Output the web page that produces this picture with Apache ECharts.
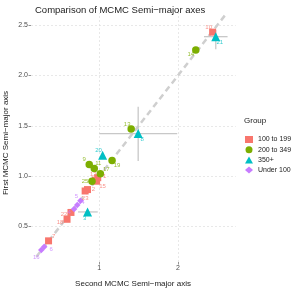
<!DOCTYPE html>
<html><head><meta charset="utf-8">
<script src="https://cdn.jsdelivr.net/npm/echarts@6/dist/echarts.min.js"></script>
<style>html,body{margin:0;padding:0;background:#fff}#c{width:291px;height:291px}</style>
</head><body><div id="c"></div>
<script>
// ---- data ----
const groupNames = ['100 to 199', '200 to 349', '350+', 'Under 100'];
const groupColors = ['#F8766D', '#7CAE00', '#00BFC4', '#C77CFF'];

const idsA = ['10', '12', '1', '15', '2', '23', '22', '18', '7'];
const xA   = [2.44, 0.95, 0.98, 0.965, 0.85, 0.82, 0.64, 0.59, 0.355];
const yA   = [2.43, 0.96, 0.985, 0.95, 0.867, 0.853, 0.64, 0.572, 0.358];

const idsB = ['14', '13', '9', '11', '19', '17', '25'];
const xB   = [2.226, 1.405, 0.872, 0.936, 1.162, 1.013, 0.907];
const yB   = [2.253, 1.469, 1.117, 1.077, 1.156, 1.025, 0.949];

const idsC = ['21', '8', '20', '3'];
const xC   = [2.48, 1.494, 1.042, 0.851];
const yC   = [2.385, 1.423, 1.209, 0.645];

const idsD = ['5', '24', '4', '6', '16'];
const xD   = [0.76, 0.72, 0.68, 0.30, 0.262];
const yD   = [0.755, 0.715, 0.675, 0.30, 0.267];

// error bars
const errX  = [2.48, 1.494, 0.851];
const errY  = [2.385, 1.423, 0.645];
const errXLo = [2.33, 1.00, 0.73];
const errXHi = [2.63, 1.99, 0.98];
const errYLo = [2.26, 1.15, 0.63];
const errYHi = [2.45, 1.69, 0.66];

const diagEnds = [0.2, 2.62];
const xTicks = [1, 2];
const yTicks = [0.5, 1.0, 1.5, 2.0, 2.5];

// ---- label placement (layout only) ----
const labelOffsets = {
  '10': [-4, -5], '12': [-2, -6], '1': [7, -1], '15': [6, 5], '2': [6, 0], '23': [0, 7],
  '22': [-7, 2], '18': [-7, 3], '7': [5, -5],
  '14': [-5, 4], '13': [-4, -5], '9': [-5, -5], '11': [4, -5], '19': [5, 5], '17': [6, -4], '25': [-7, 0],
  '21': [4, 6], '8': [4, 6], '20': [-4, -5], '3': [-3, 6],
  '5': [-4, -5], '24': [4, -3], '4': [-5, 3], '6': [7, 3], '16': [-5, 7]
};

const FONT = '"Liberation Sans", Arial, sans-serif';

function mkData(ids, xs, ys, color) {
  return ids.map((id, i) => ({
    value: [xs[i], ys[i]], name: id,
    label: { show: true, formatter: id, position: 'inside', offset: labelOffsets[id] || [0, 0],
      color: color, opacity: 0.8, fontSize: 6, fontFamily: FONT }
  }));
}

const symbols = ['rect', 'circle', 'triangle', 'diamond'];
const sizes = [7, 7.5, 9, 6.5];
const groupData = [[idsA, xA, yA], [idsB, xB, yB], [idsC, xC, yC], [idsD, xD, yD]];

const scatterSeries = groupNames.map((g, k) => ({
  name: g, type: 'scatter', symbol: symbols[k], symbolSize: sizes[k],
  itemStyle: { color: groupColors[k], opacity: 1 },
  data: mkData(groupData[k][0], groupData[k][1], groupData[k][2], groupColors[k]),
  z: 5, emphasis: { disabled: true }
}));

const gridLineData = xTicks.map(v => ({ xAxis: v })).concat(yTicks.map(v => ({ yAxis: v })));

const chart = echarts.init(document.getElementById('c'), null, { renderer: 'canvas' });
chart.setOption({
  animation: false,
  backgroundColor: '#fff',
  textStyle: { fontFamily: FONT },
  title: {
    text: 'Comparison of MCMC Semi\u2212major axes', left: 30, top: 0,
    textStyle: { fontSize: 9.5, fontWeight: 'normal', color: '#1a1a1a', fontFamily: FONT }
  },
  graphic: [
    { type: 'text', left: 244, top: 117, style: { text: 'Group', fontSize: 8, fill: '#1a1a1a', fontFamily: FONT } },
    { type: 'text', x: 133, y: 284, style: { text: 'Second MCMC Semi\u2212major axis', fontSize: 8, fill: '#1a1a1a', fontFamily: FONT, align: 'center', verticalAlign: 'middle' } },
    { type: 'text', x: 6, y: 143, rotation: Math.PI / 2, style: { text: 'First MCMC Semi\u2212major axis', fontSize: 8, fill: '#1a1a1a', fontFamily: FONT, align: 'center', verticalAlign: 'middle' } }
  ],
  legend: {
    orient: 'vertical', left: 245, top: 136, padding: 0, itemGap: 3.2,
    itemWidth: 8, itemHeight: 7,
    data: groupNames,
    textStyle: { fontSize: 7, color: '#1a1a1a', fontFamily: FONT, lineHeight: 7 }
  },
  grid: { left: 31, right: 55, top: 13, bottom: 29, containLabel: false },
  xAxis: {
    type: 'value', min: 0.132, max: 2.737,
    axisLine: { show: false },
    axisTick: { show: true, length: 2.5, lineStyle: { color: '#4d4d4d', width: 0.6 }, customValues: xTicks },
    axisLabel: { fontSize: 7, color: '#4d4d4d', margin: 3, customValues: xTicks, formatter: v => String(v) },
    splitLine: { show: false }
  },
  yAxis: {
    type: 'value', min: 0.148, max: 2.62,
    axisLine: { show: false },
    axisTick: { show: true, length: 2.5, lineStyle: { color: '#4d4d4d', width: 0.6 }, customValues: yTicks },
    axisLabel: { fontSize: 7, color: '#4d4d4d', margin: 3, customValues: yTicks, formatter: v => v.toFixed(1) },
    splitLine: { show: false }
  },
  series: [
    {
      type: 'line', name: 'diag', data: [[diagEnds[0], diagEnds[0]], [diagEnds[1], diagEnds[1]]],
      symbol: 'none', lineStyle: { color: '#cfcfcf', width: 2.5, type: [6, 4] }, z: 2, silent: true,
      markLine: {
        silent: true, symbol: 'none', label: { show: false },
        lineStyle: { color: '#dedede', width: 0.7, type: [2, 2] },
        data: gridLineData, z: 0
      }
    },
    {
      type: 'custom', name: 'err', silent: true, z: 3,
      data: errX.map((x, i) => [x, errY[i], errXLo[i], errXHi[i], errYLo[i], errYHi[i]]),
      encode: { x: 0, y: 1 },
      renderItem: function (params, api) {
        const y = api.value(1), x = api.value(0);
        const a = api.coord([api.value(2), y]), b = api.coord([api.value(3), y]);
        const c = api.coord([x, api.value(4)]), d = api.coord([x, api.value(5)]);
        const st = { stroke: '#c8c8c8', lineWidth: 1.3 };
        return { type: 'group', children: [
          { type: 'line', shape: { x1: a[0], y1: a[1], x2: b[0], y2: b[1] }, style: st },
          { type: 'line', shape: { x1: c[0], y1: c[1], x2: d[0], y2: d[1] }, style: st }
        ] };
      }
    }
  ].concat(scatterSeries)
});
</script></body></html>
